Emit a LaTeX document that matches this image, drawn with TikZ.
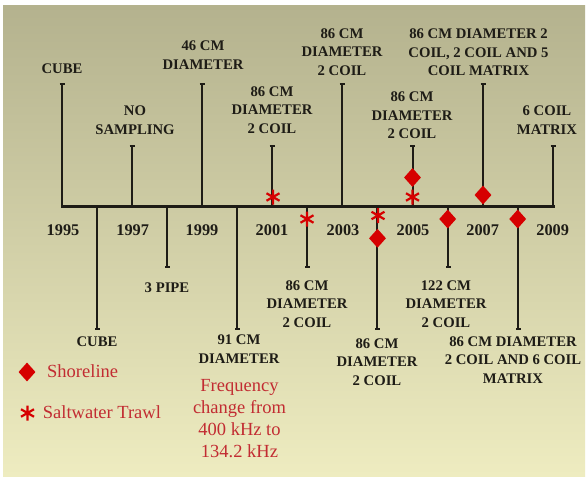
\documentclass[tikz,border=0pt]{standalone}
\usepackage{fontspec}
\setmainfont{Liberation Serif}
\usetikzlibrary{shapes.geometric,arrows.meta}
\definecolor{bgtop}{RGB}{180,178,142}
\definecolor{bgbot}{RGB}{238,236,192}
\definecolor{ink}{RGB}{30,28,22}
\definecolor{markred}{RGB}{214,0,0}
\definecolor{redtext}{RGB}{194,44,50}
\begin{document}
\begin{tikzpicture}[x=1pt,y=-1pt,
 lbl/.style={font=\bfseries\fontsize{14.7}{18.5}\selectfont, text=ink, align=center, inner sep=0pt},
 yr/.style={font=\bfseries\fontsize{16.3}{18}\selectfont, text=ink, inner sep=0pt},
 stem/.style={draw=ink, line width=2pt, -{Bar[width=5pt,line width=1.6pt]}},
 axisline/.style={draw=ink, line width=3pt},
 shore/.style={diamond, fill=markred, inner sep=0pt, minimum width=17pt, minimum height=19pt},
 redlbl/.style={font=\fontsize{18.5}{22}\selectfont, text=redtext, inner sep=0pt, align=center},
 trawl/.pic={\draw[markred, line width=2.2pt] (90:7.5)--(270:7.5) (30:7.5)--(210:7.5) (150:7.5)--(330:7.5);}
]
% background
\fill[white] (0,0) rectangle (586,477);
\shade[top color=bgtop, bottom color=bgbot] (3,5) rectangle (585,476);
\useasboundingbox (0,0) rectangle (586,477);

% axis
\coordinate (axL) at (61,206.5);
\coordinate (axR) at (555,206.5);

% upward stems
\foreach \n/\x/\t in {a/62/83, b/132/145, c/202/83, d/272/145, e/342/83, f/412.5/145, g/483/83, h/553/145}{
  \coordinate (ub\n) at (\x,206.5);
  \coordinate (ut\n) at (\x,\t);
  \draw[stem] (ub\n) -- (ut\n);
}
% downward stems
\foreach \n/\x/\t in {a/97/330, b/167/268, c/237/330, d/307/268, e/377/330, f/448/268, g/518/330}{
  \coordinate (db\n) at (\x,206.5);
  \coordinate (dt\n) at (\x,\t);
  \draw[stem] (db\n) -- (dt\n);
}
\draw[axisline] (axL) -- (axR);

% years
\node[yr] (y1995) at (63,230) {1995};
\node[yr] (y1997) at (132.7,230) {1997};
\node[yr] (y1999) at (202,230) {1999};
\node[yr] (y2001) at (272,230) {2001};
\node[yr] (y2003) at (343,230) {2003};
\node[yr] (y2005) at (413,230) {2005};
\node[yr] (y2007) at (482.7,230) {2007};
\node[yr] (y2009) at (552.7,230) {2009};

% top labels
\node[lbl] (l1) at (62,69) {CUBE};
\node[lbl] (l2) at (135,120) {NO\\SAMPLING};
\node[lbl] (l3) at (203,55) {46 CM\\DIAMETER};
\node[lbl] (l4) at (272,110) {86 CM\\DIAMETER\\2 COIL};
\node[lbl] (l5) at (342,52) {86 CM\\DIAMETER\\2 COIL};
\node[lbl] (l6) at (412,115.5) {86 CM\\DIAMETER\\2 COIL};
\node[lbl] (l7) at (478.5,52.5) {86 CM DIAMETER 2\\COIL, 2 COIL AND 5\\COIL MATRIX};
\node[lbl] (l8) at (547,120) {6 COIL\\MATRIX};

% bottom labels
\node[lbl] (b1) at (97,342) {CUBE};
\node[lbl] (b2) at (167,288) {3 PIPE};
\node[lbl] (b3) at (239,349) {91 CM\\DIAMETER};
\node[redlbl] (b3r) at (239.5,418.5) {Frequency\\change from\\400 kHz to\\134.2 kHz};
\node[lbl] (b4) at (307,304) {86 CM\\DIAMETER\\2 COIL};
\node[lbl] (b5) at (377,362) {86 CM\\DIAMETER\\2 COIL};
\node[lbl] (b6) at (446,304) {122 CM\\DIAMETER\\2 COIL};
\node[lbl] (b7) at (513,360) {86 CM DIAMETER\\2 COIL AND 6 COIL\\MATRIX};

% markers
\coordinate (s1) at (273,197);
\coordinate (s2) at (307,219);
\coordinate (s3) at (378,215.5);
\coordinate (s4) at (412.5,197);
\foreach \s in {s1,s2,s3,s4} \pic at (\s) {trawl};
\node[shore] (d1) at (412.5,177.5) {};
\node[shore] (d2) at (483,195) {};
\node[shore] (d3) at (377.5,238.3) {};
\node[shore] (d4) at (447.7,219) {};
\node[shore] (d5) at (517.7,219) {};

% legend
\node[shore] (legd) at (27,372) {};
\node[redlbl, anchor=west] (legdt) at (47,371) {Shoreline};
\coordinate (legs) at (27.5,413);
\pic at (legs) {trawl};
\node[redlbl, anchor=west] (legst) at (42.7,412) {Saltwater Trawl};
\end{tikzpicture}
\end{document}
